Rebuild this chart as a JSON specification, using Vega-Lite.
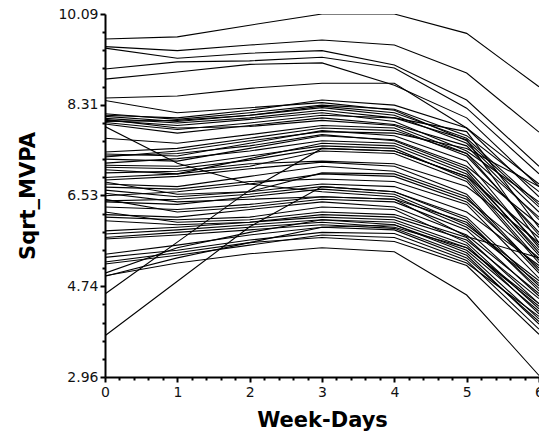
{
"$schema": "https://vega.github.io/schema/vega-lite/v6.json",
"width": 434, "height": 363,
"autosize": {"type": "none"},
"padding": {"left": 105, "top": 14, "right": 0, "bottom": 62},
"config": {"view": {"stroke": null}, "font": "DejaVu Sans"},
"datasets": {"lines": [
{"i":1,"d":0,"v":9.60},{"i":1,"d":1,"v":9.64},{"i":1,"d":2,"v":9.87},{"i":1,"d":3,"v":10.09},{"i":1,"d":4,"v":10.09},{"i":1,"d":5,"v":9.71},{"i":1,"d":6,"v":8.66},
{"i":2,"d":0,"v":9.45},{"i":2,"d":1,"v":9.37},{"i":2,"d":2,"v":9.48},{"i":2,"d":3,"v":9.58},{"i":2,"d":4,"v":9.48},{"i":2,"d":5,"v":8.93},{"i":2,"d":6,"v":7.77},
{"i":3,"d":0,"v":9.42},{"i":3,"d":1,"v":9.22},{"i":3,"d":2,"v":9.32},{"i":3,"d":3,"v":9.37},{"i":3,"d":4,"v":9.09},{"i":3,"d":5,"v":8.40},{"i":3,"d":6,"v":7.10},
{"i":4,"d":0,"v":9.01},{"i":4,"d":1,"v":9.15},{"i":4,"d":2,"v":9.17},{"i":4,"d":3,"v":9.24},{"i":4,"d":4,"v":9.03},{"i":4,"d":5,"v":8.24},{"i":4,"d":6,"v":6.95},
{"i":5,"d":0,"v":8.81},{"i":5,"d":1,"v":8.95},{"i":5,"d":2,"v":9.10},{"i":5,"d":3,"v":9.13},{"i":5,"d":4,"v":8.69},{"i":5,"d":5,"v":8.05},{"i":5,"d":6,"v":6.70},
{"i":6,"d":0,"v":8.44},{"i":6,"d":1,"v":8.48},{"i":6,"d":2,"v":8.63},{"i":6,"d":3,"v":8.73},{"i":6,"d":4,"v":8.73},{"i":6,"d":5,"v":7.85},{"i":6,"d":6,"v":6.50},
{"i":7,"d":0,"v":8.39},{"i":7,"d":1,"v":8.15},{"i":7,"d":2,"v":8.25},{"i":7,"d":3,"v":8.35},{"i":7,"d":4,"v":8.20},{"i":7,"d":5,"v":7.60},{"i":7,"d":6,"v":6.30},
{"i":8,"d":0,"v":8.13},{"i":8,"d":1,"v":8.02},{"i":8,"d":2,"v":8.15},{"i":8,"d":3,"v":8.30},{"i":8,"d":4,"v":8.22},{"i":8,"d":5,"v":7.70},{"i":8,"d":6,"v":6.60},
{"i":9,"d":0,"v":8.08},{"i":9,"d":1,"v":7.98},{"i":9,"d":2,"v":8.10},{"i":9,"d":3,"v":8.25},{"i":9,"d":4,"v":8.10},{"i":9,"d":5,"v":7.55},{"i":9,"d":6,"v":6.20},
{"i":10,"d":0,"v":8.04},{"i":10,"d":1,"v":7.95},{"i":10,"d":2,"v":8.05},{"i":10,"d":3,"v":8.20},{"i":10,"d":4,"v":8.05},{"i":10,"d":5,"v":7.78},{"i":10,"d":6,"v":5.90},
{"i":11,"d":0,"v":8.00},{"i":11,"d":1,"v":7.90},{"i":11,"d":2,"v":8.02},{"i":11,"d":3,"v":8.15},{"i":11,"d":4,"v":7.98},{"i":11,"d":5,"v":7.40},{"i":11,"d":6,"v":6.40},
{"i":12,"d":0,"v":7.96},{"i":12,"d":1,"v":7.82},{"i":12,"d":2,"v":7.95},{"i":12,"d":3,"v":8.10},{"i":12,"d":4,"v":8.05},{"i":12,"d":5,"v":7.62},{"i":12,"d":6,"v":5.60},
{"i":13,"d":0,"v":7.93},{"i":13,"d":1,"v":7.75},{"i":13,"d":2,"v":7.90},{"i":13,"d":3,"v":8.05},{"i":13,"d":4,"v":7.92},{"i":13,"d":5,"v":7.50},{"i":13,"d":6,"v":6.05},
{"i":14,"d":0,"v":7.88},{"i":14,"d":1,"v":7.16},{"i":14,"d":2,"v":6.75},{"i":14,"d":3,"v":6.60},{"i":14,"d":4,"v":6.50},{"i":14,"d":5,"v":5.90},{"i":14,"d":6,"v":4.80},
{"i":15,"d":0,"v":7.65},{"i":15,"d":1,"v":7.55},{"i":15,"d":2,"v":7.72},{"i":15,"d":3,"v":7.90},{"i":15,"d":4,"v":7.85},{"i":15,"d":5,"v":7.30},{"i":15,"d":6,"v":5.80},
{"i":16,"d":0,"v":7.38},{"i":16,"d":1,"v":7.45},{"i":16,"d":2,"v":7.65},{"i":16,"d":3,"v":7.85},{"i":16,"d":4,"v":7.80},{"i":16,"d":5,"v":7.35},{"i":16,"d":6,"v":6.10},
{"i":17,"d":0,"v":7.34},{"i":17,"d":1,"v":7.30},{"i":17,"d":2,"v":7.55},{"i":17,"d":3,"v":7.80},{"i":17,"d":4,"v":7.70},{"i":17,"d":5,"v":7.20},{"i":17,"d":6,"v":5.50},
{"i":18,"d":0,"v":7.28},{"i":18,"d":1,"v":7.40},{"i":18,"d":2,"v":7.60},{"i":18,"d":3,"v":7.78},{"i":18,"d":4,"v":7.75},{"i":18,"d":5,"v":7.45},{"i":18,"d":6,"v":6.70},
{"i":19,"d":0,"v":7.24},{"i":19,"d":1,"v":7.20},{"i":19,"d":2,"v":7.45},{"i":19,"d":3,"v":7.70},{"i":19,"d":4,"v":7.62},{"i":19,"d":5,"v":7.10},{"i":19,"d":6,"v":5.95},
{"i":20,"d":0,"v":7.16},{"i":20,"d":1,"v":7.25},{"i":20,"d":2,"v":7.40},{"i":20,"d":3,"v":7.60},{"i":20,"d":4,"v":7.55},{"i":20,"d":5,"v":7.00},{"i":20,"d":6,"v":5.40},
{"i":21,"d":0,"v":7.08},{"i":21,"d":1,"v":7.05},{"i":21,"d":2,"v":7.22},{"i":21,"d":3,"v":7.45},{"i":21,"d":4,"v":7.40},{"i":21,"d":5,"v":6.90},{"i":21,"d":6,"v":5.70},
{"i":22,"d":0,"v":7.03},{"i":22,"d":1,"v":6.95},{"i":22,"d":2,"v":7.10},{"i":22,"d":3,"v":7.40},{"i":22,"d":4,"v":7.35},{"i":22,"d":5,"v":6.80},{"i":22,"d":6,"v":5.20},
{"i":23,"d":0,"v":6.97},{"i":23,"d":1,"v":7.00},{"i":23,"d":2,"v":7.15},{"i":23,"d":3,"v":7.20},{"i":23,"d":4,"v":7.15},{"i":23,"d":5,"v":6.70},{"i":23,"d":6,"v":5.60},
{"i":24,"d":0,"v":6.83},{"i":24,"d":1,"v":6.90},{"i":24,"d":2,"v":7.05},{"i":24,"d":3,"v":7.18},{"i":24,"d":4,"v":7.10},{"i":24,"d":5,"v":6.55},{"i":24,"d":6,"v":5.05},
{"i":25,"d":0,"v":6.79},{"i":25,"d":1,"v":6.55},{"i":25,"d":2,"v":6.60},{"i":25,"d":3,"v":6.97},{"i":25,"d":4,"v":6.95},{"i":25,"d":5,"v":6.45},{"i":25,"d":6,"v":5.30},
{"i":26,"d":0,"v":6.69},{"i":26,"d":1,"v":6.65},{"i":26,"d":2,"v":6.80},{"i":26,"d":3,"v":6.85},{"i":26,"d":4,"v":6.80},{"i":26,"d":5,"v":6.35},{"i":26,"d":6,"v":4.90},
{"i":27,"d":0,"v":6.63},{"i":27,"d":1,"v":6.50},{"i":27,"d":2,"v":6.60},{"i":27,"d":3,"v":6.75},{"i":27,"d":4,"v":6.70},{"i":27,"d":5,"v":6.20},{"i":27,"d":6,"v":5.15},
{"i":28,"d":0,"v":6.57},{"i":28,"d":1,"v":6.40},{"i":28,"d":2,"v":6.45},{"i":28,"d":3,"v":6.50},{"i":28,"d":4,"v":6.45},{"i":28,"d":5,"v":6.00},{"i":28,"d":6,"v":4.70},
{"i":29,"d":0,"v":6.45},{"i":29,"d":1,"v":6.20},{"i":29,"d":2,"v":6.30},{"i":29,"d":3,"v":6.45},{"i":29,"d":4,"v":6.40},{"i":29,"d":5,"v":5.85},{"i":29,"d":6,"v":4.55},
{"i":30,"d":0,"v":6.40},{"i":30,"d":1,"v":6.35},{"i":30,"d":2,"v":6.50},{"i":30,"d":3,"v":6.65},{"i":30,"d":4,"v":6.55},{"i":30,"d":5,"v":5.95},{"i":30,"d":6,"v":4.85},
{"i":31,"d":0,"v":6.20},{"i":31,"d":1,"v":6.00},{"i":31,"d":2,"v":6.05},{"i":31,"d":3,"v":6.20},{"i":31,"d":4,"v":6.15},{"i":31,"d":5,"v":5.70},{"i":31,"d":6,"v":4.40},
{"i":32,"d":0,"v":6.15},{"i":32,"d":1,"v":6.10},{"i":32,"d":2,"v":6.25},{"i":32,"d":3,"v":6.40},{"i":32,"d":4,"v":6.30},{"i":32,"d":5,"v":5.75},{"i":32,"d":6,"v":4.60},
{"i":33,"d":0,"v":6.10},{"i":33,"d":1,"v":6.05},{"i":33,"d":2,"v":6.10},{"i":33,"d":3,"v":6.30},{"i":33,"d":4,"v":6.25},{"i":33,"d":5,"v":5.60},{"i":33,"d":6,"v":4.30},
{"i":34,"d":0,"v":6.03},{"i":34,"d":1,"v":5.95},{"i":34,"d":2,"v":6.00},{"i":34,"d":3,"v":6.10},{"i":34,"d":4,"v":6.05},{"i":34,"d":5,"v":5.55},{"i":34,"d":6,"v":4.20},
{"i":35,"d":0,"v":5.83},{"i":35,"d":1,"v":5.90},{"i":35,"d":2,"v":6.00},{"i":35,"d":3,"v":6.15},{"i":35,"d":4,"v":6.10},{"i":35,"d":5,"v":5.65},{"i":35,"d":6,"v":4.50},
{"i":36,"d":0,"v":5.77},{"i":36,"d":1,"v":5.85},{"i":36,"d":2,"v":5.95},{"i":36,"d":3,"v":6.05},{"i":36,"d":4,"v":5.95},{"i":36,"d":5,"v":5.40},{"i":36,"d":6,"v":4.10},
{"i":37,"d":0,"v":5.70},{"i":37,"d":1,"v":5.80},{"i":37,"d":2,"v":5.90},{"i":37,"d":3,"v":6.00},{"i":37,"d":4,"v":5.90},{"i":37,"d":5,"v":5.50},{"i":37,"d":6,"v":4.35},
{"i":38,"d":0,"v":5.37},{"i":38,"d":1,"v":5.55},{"i":38,"d":2,"v":5.75},{"i":38,"d":3,"v":5.90},{"i":38,"d":4,"v":5.85},{"i":38,"d":5,"v":5.30},{"i":38,"d":6,"v":4.05},
{"i":39,"d":0,"v":5.31},{"i":39,"d":1,"v":5.45},{"i":39,"d":2,"v":5.65},{"i":39,"d":3,"v":5.80},{"i":39,"d":4,"v":5.78},{"i":39,"d":5,"v":5.25},{"i":39,"d":6,"v":3.90},
{"i":40,"d":0,"v":5.18},{"i":40,"d":1,"v":5.35},{"i":40,"d":2,"v":5.55},{"i":40,"d":3,"v":5.75},{"i":40,"d":4,"v":5.70},{"i":40,"d":5,"v":5.20},{"i":40,"d":6,"v":4.15},
{"i":41,"d":0,"v":4.95},{"i":41,"d":1,"v":5.20},{"i":41,"d":2,"v":5.38},{"i":41,"d":3,"v":5.50},{"i":41,"d":4,"v":5.42},{"i":41,"d":5,"v":4.57},{"i":41,"d":6,"v":2.99},
{"i":42,"d":0,"v":4.94},{"i":42,"d":1,"v":5.30},{"i":42,"d":2,"v":5.60},{"i":42,"d":3,"v":5.90},{"i":42,"d":4,"v":5.95},{"i":42,"d":5,"v":5.45},{"i":42,"d":6,"v":4.25},
{"i":43,"d":0,"v":4.59},{"i":43,"d":1,"v":5.61},{"i":43,"d":2,"v":6.63},{"i":43,"d":3,"v":7.45},{"i":43,"d":4,"v":7.40},{"i":43,"d":5,"v":6.90},{"i":43,"d":6,"v":5.35},
{"i":44,"d":0,"v":3.77},{"i":44,"d":1,"v":4.84},{"i":44,"d":2,"v":5.91},{"i":44,"d":3,"v":6.70},{"i":44,"d":4,"v":6.60},{"i":44,"d":5,"v":6.05},{"i":44,"d":6,"v":4.65},
{"i":45,"d":0,"v":8.10},{"i":45,"d":1,"v":8.05},{"i":45,"d":2,"v":8.20},{"i":45,"d":3,"v":8.40},{"i":45,"d":4,"v":8.30},{"i":45,"d":5,"v":7.85},{"i":45,"d":6,"v":6.75},
{"i":46,"d":0,"v":8.02},{"i":46,"d":1,"v":7.85},{"i":46,"d":2,"v":7.88},{"i":46,"d":3,"v":8.00},{"i":46,"d":4,"v":7.90},{"i":46,"d":5,"v":7.35},{"i":46,"d":6,"v":5.75},
{"i":47,"d":0,"v":7.98},{"i":47,"d":1,"v":8.00},{"i":47,"d":2,"v":8.10},{"i":47,"d":3,"v":8.28},{"i":47,"d":4,"v":8.15},{"i":47,"d":5,"v":7.65},{"i":47,"d":6,"v":6.35},
{"i":48,"d":0,"v":7.30},{"i":48,"d":1,"v":7.35},{"i":48,"d":2,"v":7.50},{"i":48,"d":3,"v":7.72},{"i":48,"d":4,"v":7.60},{"i":48,"d":5,"v":7.05},{"i":48,"d":6,"v":5.55},
{"i":49,"d":0,"v":6.88},{"i":49,"d":1,"v":6.95},{"i":49,"d":2,"v":7.25},{"i":49,"d":3,"v":7.55},{"i":49,"d":4,"v":7.50},{"i":49,"d":5,"v":6.95},{"i":49,"d":6,"v":5.45},
{"i":50,"d":0,"v":6.75},{"i":50,"d":1,"v":6.70},{"i":50,"d":2,"v":6.90},{"i":50,"d":3,"v":7.10},{"i":50,"d":4,"v":7.00},{"i":50,"d":5,"v":6.50},{"i":50,"d":6,"v":5.00},
{"i":51,"d":0,"v":6.42},{"i":51,"d":1,"v":6.45},{"i":51,"d":2,"v":6.55},{"i":51,"d":3,"v":6.70},{"i":51,"d":4,"v":6.60},{"i":51,"d":5,"v":6.10},{"i":51,"d":6,"v":4.75},
{"i":52,"d":0,"v":5.67},{"i":52,"d":1,"v":5.75},{"i":52,"d":2,"v":5.85},{"i":52,"d":3,"v":5.95},{"i":52,"d":4,"v":5.88},{"i":52,"d":5,"v":5.35},{"i":52,"d":6,"v":4.00},
{"i":53,"d":0,"v":5.22},{"i":53,"d":1,"v":5.40},{"i":53,"d":2,"v":5.60},{"i":53,"d":3,"v":5.70},{"i":53,"d":4,"v":5.62},{"i":53,"d":5,"v":5.15},{"i":53,"d":6,"v":3.80},
{"i":54,"d":0,"v":5.00},{"i":54,"d":1,"v":5.50},{"i":54,"d":2,"v":5.80},{"i":54,"d":3,"v":6.05},{"i":54,"d":4,"v":6.00},{"i":54,"d":5,"v":5.50},{"i":54,"d":6,"v":4.40},
{"i":55,"d":0,"v":6.52},{"i":55,"d":1,"v":6.60},{"i":55,"d":2,"v":6.75},{"i":55,"d":3,"v":6.95},{"i":55,"d":4,"v":6.90},{"i":55,"d":5,"v":6.40},{"i":55,"d":6,"v":5.10},
{"i":56,"d":0,"v":7.12},{"i":56,"d":1,"v":7.10},{"i":56,"d":2,"v":7.30},{"i":56,"d":3,"v":7.50},{"i":56,"d":4,"v":7.45},{"i":56,"d":5,"v":6.85},{"i":56,"d":6,"v":5.25},
{"i":57,"d":0,"v":6.30},{"i":57,"d":1,"v":6.25},{"i":57,"d":2,"v":6.35},{"i":57,"d":3,"v":6.50},{"i":57,"d":4,"v":6.45},{"i":57,"d":5,"v":5.72},{"i":57,"d":6,"v":5.30}
]},
"data": {"name": "lines"},
"layer": [
 {"mark": {"type": "line", "color": "black", "strokeWidth": 1.1, "clip": true},
  "encoding": {
   "x": {"field": "d", "type": "quantitative", "scale": {"domain": [0, 6], "nice": false, "zero": false},
     "axis": {"orient": "bottom", "values": [0,1,2,3,4,5,6], "format": "d", "title": "Week-Days", "grid": false,
       "domainColor": "black", "domainWidth": 2, "tickColor": "black", "tickWidth": 2, "tickSize": 5,
       "labelFont": "DejaVu Sans", "labelFontSize": 14, "labelColor": "#111", "labelPadding": 3, "labelFlush": false,
       "titleFont": "DejaVu Sans", "titleFontSize": 21, "titleFontWeight": "bold", "titleColor": "black", "titlePadding": 10}},
   "y": {"field": "v", "type": "quantitative", "scale": {"domain": [2.96, 10.09], "nice": false, "zero": false},
     "axis": {"orient": "left", "values": [2.96, 4.74, 6.53, 8.31, 10.09], "format": ".2f", "title": "Sqrt_MVPA", "grid": false,
       "domainColor": "black", "domainWidth": 2, "tickColor": "black", "tickWidth": 2, "tickSize": 5,
       "labelFont": "DejaVu Sans", "labelFontSize": 14, "labelColor": "#111", "labelPadding": 2, "labelFlush": false,
       "titleFont": "DejaVu Sans", "titleFontSize": 21, "titleFontWeight": "bold", "titleColor": "black", "titlePadding": 19}},
   "detail": {"field": "i", "type": "nominal"}
  }},
 {"mark": {"type": "line", "opacity": 0},
  "encoding": {
   "x": {"field": "d", "type": "quantitative",
     "axis": {"orient": "bottom", "values": [0.2,0.4,0.6,0.8,1.2,1.4,1.6,1.8,2.2,2.4,2.6,2.8,3.2,3.4,3.6,3.8,4.2,4.4,4.6,4.8,5.2,5.4,5.6,5.8],
       "labels": false, "domain": false, "grid": false, "title": null, "tickColor": "black", "tickWidth": 2, "tickSize": 3}},
   "y": {"field": "v", "type": "quantitative",
     "axis": {"orient": "left", "values": [3.3165,3.673,4.0295,4.386,5.099,5.4555,5.812,6.1685,6.8815,7.238,7.5945,7.951,8.664,9.0205,9.377,9.7335],
       "labels": false, "domain": false, "grid": false, "title": null, "tickColor": "black", "tickWidth": 2, "tickSize": 3}},
   "detail": {"field": "i", "type": "nominal"}
  }}
],
"resolve": {"axis": {"x": "independent", "y": "independent"}}
}
